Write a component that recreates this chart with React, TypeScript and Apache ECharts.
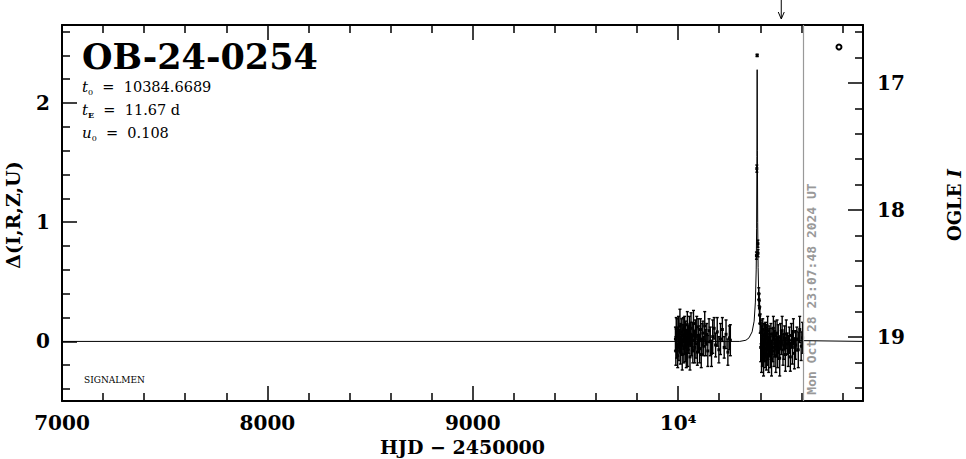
import React, { useEffect, useRef } from 'react';
import * as echarts from 'echarts';

// ---- axis ranges ----
const X_MIN = 7000;
const X_MAX = 10900;
const DELTA_MIN = -0.5;
const DELTA_MAX = 2.655;
const MAG_MIN = 16.543;
const MAG_MAX = 19.504;

// ---- tick positions ----
const xLabelTicks = [7000, 8000, 9000, 10000];
const xMinorTicks = [7200, 7400, 7600, 7800, 8200, 8400, 8600, 8800, 9200, 9400, 9600, 9800, 10200, 10400, 10600, 10800];
const deltaLabelTicks = [0, 1, 2];
const deltaMinorTicks = [-0.4, -0.2, 0.2, 0.4, 0.6, 0.8, 1.2, 1.4, 1.6, 1.8, 2.2, 2.4, 2.6];
const magLabelTicks = [17, 18, 19];
const magMinorTicks = [16.6, 16.8, 17.2, 17.4, 17.6, 17.8, 18.2, 18.4, 18.6, 18.8, 19.2, 19.4];

// ---- annotations ----
const EVENT_NAME = 'OB-24-0254';
const T0 = '10384.6689';
const TE = '11.67 d';
const U0 = '0.108';
const X_TITLE = 'HJD − 2450000';
const DATE_HJD = 10609.5;
const DATE_TEXT = 'Mon Oct 28 23:07:48 2024 UT';
const ARROW_HJD = 10502;
const LEGEND_POINT = [10783, 2.47];

// ---- model curve ----
const modelHjd = [7000, 10300, 10330, 10345, 10360, 10370, 10376, 10380, 10382, 10383.5, 10384.67, 10385.8, 10387.3, 10389.3, 10393, 10399, 10409, 10424, 10445, 10900];
const modelDelta = [0, 0, 0.01, 0.03, 0.08, 0.17, 0.33, 0.6, 0.95, 1.55, 2.28, 1.6, 1.0, 0.62, 0.34, 0.17, 0.08, 0.03, 0.01, 0];

// ---- OGLE photometry: season 2023 ----
const season1Hjd = [9986.8, 9988.8, 9990.7, 9992.8, 9994.7, 9997.8, 9999.7, 10001.8, 10003.7, 10005.8, 10008.7, 10010.8, 10012.7, 10015.8, 10017.6, 10019.8, 10022.7, 10024.7, 10027.6, 10029.8, 10031.7, 10034.6, 10036.7, 10039.6, 10041.7, 10044.6, 10046.6, 10049.7, 10051.6, 10054.6, 10057.6, 10059.7, 10062.6, 10065.5, 10068.6, 10071.5, 10074.6, 10077.5, 10080.6, 10083.5, 10086.6, 10090.5, 10093.5, 10097.5, 10100.5, 10104.5, 10108.5, 10112.4, 10116.5, 10120.4, 10124.5, 10129.4, 10134.4, 10139.4, 10144.4, 10150.4, 10156.3, 10162.4, 10168.3, 10175.3, 10182.3, 10190.3, 10198.2, 10206.2, 10215.2, 10224.2, 10233.1, 10242.1, 10249.1, 10254.1];
const season1Delta = [0.02, -0.08, 0.11, -0.03, 0.06, -0.12, 0.04, 0.09, -0.05, 0.01, 0.13, -0.09, 0.03, -0.02, 0.08, -0.11, 0.05, 0.1, -0.06, 0.0, 0.12, -0.04, 0.07, -0.1, 0.02, 0.14, -0.07, 0.03, -0.01, 0.09, -0.13, 0.06, 0.11, -0.03, 0.04, -0.08, 0.15, 0.01, -0.05, 0.08, -0.02, 0.12, -0.09, 0.05, 0.03, -0.06, 0.1, -0.11, 0.02, 0.07, -0.04, 0.13, -0.01, 0.06, -0.08, 0.09, 0.0, -0.1, 0.04, 0.11, -0.03, 0.08, -0.07, 0.02, 0.1, -0.05, 0.06, -0.09, 0.03, 0.01];
const season1Err = [0.1, 0.12, 0.09, 0.11, 0.13, 0.1, 0.08, 0.12, 0.11, 0.09, 0.14, 0.1, 0.12, 0.08, 0.11, 0.13, 0.09, 0.1, 0.12, 0.11, 0.09, 0.13, 0.1, 0.12, 0.08, 0.11, 0.14, 0.1, 0.09, 0.12, 0.11, 0.1, 0.13, 0.09, 0.12, 0.1, 0.11, 0.08, 0.13, 0.1, 0.12, 0.09, 0.11, 0.14, 0.1, 0.12, 0.09, 0.11, 0.13, 0.1, 0.08, 0.12, 0.11, 0.09, 0.13, 0.1, 0.12, 0.11, 0.14, 0.09, 0.1, 0.12, 0.11, 0.13, 0.1, 0.09, 0.12, 0.11, 0.1, 0.13];

// ---- OGLE photometry: around the peak ----
const peakHjd = [10381.2, 10383.0, 10384.6, 10388.3, 10388.9, 10392.5, 10394.0, 10395.8, 10397.5, 10399.5];
const peakDelta = [0.72, 1.45, 2.4, 0.82, 0.74, 0.4, 0.35, 0.28, 0.22, 0.15];
const peakErr = [0.03, 0.03, 0.01, 0.03, 0.03, 0.05, 0.05, 0.06, 0.07, 0.08];

// ---- OGLE photometry: season 2024 after the peak ----
const season2Hjd = [10401.9, 10403.8, 10405.9, 10407.8, 10409.8, 10411.9, 10413.8, 10415.8, 10417.9, 10419.8, 10421.8, 10423.7, 10425.8, 10427.8, 10429.7, 10431.8, 10433.7, 10435.8, 10437.7, 10440.7, 10442.8, 10445.7, 10448.7, 10451.6, 10454.7, 10457.6, 10460.7, 10463.6, 10466.6, 10469.6, 10472.6, 10475.6, 10478.5, 10481.6, 10484.5, 10487.5, 10490.5, 10494.5, 10498.5, 10502.4, 10506.4, 10510.4, 10514.4, 10518.3, 10522.3, 10526.3, 10531.3, 10536.2, 10541.2, 10546.2, 10551.2, 10556.1, 10561.1, 10566.1, 10572.0, 10578.0, 10584.9, 10591.9, 10598.9, 10605.8];
const season2Delta = [-0.05, 0.08, -0.12, 0.02, -0.08, 0.1, -0.03, -0.14, 0.05, -0.06, 0.01, -0.1, 0.07, -0.02, -0.13, 0.04, -0.07, 0.09, -0.04, -0.11, 0.03, -0.01, -0.09, 0.06, -0.15, 0.0, -0.05, 0.11, -0.08, -0.02, 0.05, -0.12, -0.03, 0.07, -0.09, 0.02, -0.06, -0.14, 0.04, -0.01, 0.09, -0.07, -0.04, 0.03, -0.11, 0.06, -0.02, -0.08, 0.01, -0.13, 0.05, -0.05, 0.08, -0.1, -0.03, 0.02, -0.07, 0.1, -0.04, 0.03];
const season2Err = [0.12, 0.1, 0.14, 0.11, 0.13, 0.09, 0.12, 0.15, 0.1, 0.11, 0.13, 0.12, 0.09, 0.14, 0.11, 0.1, 0.13, 0.12, 0.11, 0.15, 0.1, 0.12, 0.13, 0.09, 0.14, 0.11, 0.12, 0.1, 0.13, 0.11, 0.12, 0.14, 0.1, 0.11, 0.13, 0.12, 0.09, 0.15, 0.11, 0.1, 0.12, 0.13, 0.11, 0.1, 0.14, 0.12, 0.09, 0.13, 0.11, 0.12, 0.1, 0.14, 0.11, 0.13, 0.12, 0.1, 0.15, 0.11, 0.12, 0.13];

const SERIF = '"DejaVu Serif", "Liberation Serif", serif';
const BLACK = '#000';
const GRAY = '#999';
const GRID = { left: 62, right: 103, top: 25, bottom: 58 };
const MAJOR_LEN = 15;
const MINOR_LEN = 8;

function zip3(a: number[], b: number[], c: number[]) {
  return a.map((v, i) => [v, b[i], c[i]]);
}

export default function App() {
  const ref = useRef<HTMLDivElement>(null);

  useEffect(() => {
    if (!ref.current) return;
    const chart = echarts.init(ref.current, undefined, { renderer: 'svg' });

    const obs = [
      ...zip3(season1Hjd, season1Delta, season1Err),
      ...zip3(peakHjd, peakDelta, peakErr),
      ...zip3(season2Hjd, season2Delta, season2Err),
    ];
    const model = modelHjd.map((v, i) => [v, modelDelta[i]]);

    const frameLine = { show: true, onZero: false, lineStyle: { color: BLACK, width: 2 } };
    const labelFont = { color: BLACK, fontFamily: SERIF, fontSize: 20, fontWeight: 'bold' as const };
    const ticks = (values: number[], length: number) => ({
      show: true,
      inside: true,
      length,
      customValues: values,
      lineStyle: { color: BLACK, width: 1.5 },
    });
    const noLabel = { show: false };
    const noSplit = { show: false };
    // an axis that only carries tick marks, pinned to the zero of a helper axis
    const pinned = (idx: number) => ({ show: false, onZero: true, onZeroAxisIndex: idx });

    const xRange = { type: 'value' as const, min: X_MIN, max: X_MAX, splitLine: noSplit };
    const deltaRange = { type: 'value' as const, min: DELTA_MIN, max: DELTA_MAX, splitLine: noSplit };
    const magRange = { type: 'value' as const, min: MAG_MIN, max: MAG_MAX, inverse: true, splitLine: noSplit };

    chart.setOption({
      animation: false,
      backgroundColor: '#fff',
      grid: { ...GRID, containLabel: false },
      xAxis: [
        // 0: bottom frame, labels, major ticks
        {
          ...xRange,
          position: 'bottom',
          axisLine: frameLine,
          axisTick: ticks(xLabelTicks, MAJOR_LEN),
          axisLabel: {
            ...labelFont,
            margin: 12,
            customValues: xLabelTicks,
            formatter: (v: number) => (v === 10000 ? '10⁴' : String(v)),
          },
        },
        // 1: bottom minor ticks
        { ...xRange, position: 'bottom', axisLine: pinned(2), axisTick: ticks(xMinorTicks, MINOR_LEN), axisLabel: noLabel },
        // 2: top frame
        { ...xRange, position: 'top', axisLine: frameLine, axisTick: { show: false }, axisLabel: noLabel },
        // 3: top major ticks
        { ...xRange, position: 'top', axisLine: pinned(3), axisTick: ticks(xLabelTicks, MAJOR_LEN), axisLabel: noLabel },
        // 4: top minor ticks
        { ...xRange, position: 'top', axisLine: pinned(3), axisTick: ticks(xMinorTicks, MINOR_LEN), axisLabel: noLabel },
        // 5, 6: helper axes whose zero sits on the left / right frame
        { type: 'value', min: 0, max: 1, show: false, position: 'bottom', splitLine: noSplit },
        { type: 'value', min: -1, max: 0, show: false, position: 'bottom', splitLine: noSplit },
      ],
      yAxis: [
        // 0: left frame, Δ labels, major ticks
        {
          ...deltaRange,
          position: 'left',
          axisLine: frameLine,
          axisTick: ticks(deltaLabelTicks, MAJOR_LEN),
          axisLabel: { ...labelFont, margin: 12, customValues: deltaLabelTicks },
        },
        // 1: right frame, OGLE I labels, major ticks
        {
          ...magRange,
          position: 'right',
          axisLine: frameLine,
          axisTick: ticks(magLabelTicks, MAJOR_LEN),
          axisLabel: { ...labelFont, margin: 14, customValues: magLabelTicks },
        },
        // 2, 3: helper axes whose zero sits on the bottom / top frame
        { type: 'value', min: 0, max: 1, show: false, position: 'left', splitLine: noSplit },
        { type: 'value', min: -1, max: 0, show: false, position: 'left', splitLine: noSplit },
        // 4: left minor ticks
        { ...deltaRange, position: 'left', axisLine: pinned(5), axisTick: ticks(deltaMinorTicks, MINOR_LEN), axisLabel: noLabel },
        // 5: right minor ticks
        { ...magRange, position: 'right', axisLine: pinned(6), axisTick: ticks(magMinorTicks, MINOR_LEN), axisLabel: noLabel },
      ],
      series: [
        {
          type: 'line',
          name: 'model',
          xAxisIndex: 0,
          yAxisIndex: 0,
          data: model,
          showSymbol: false,
          symbol: 'none',
          lineStyle: { color: BLACK, width: 1 },
          silent: true,
          markLine: {
            silent: true,
            symbol: ['none', 'none'],
            label: { show: false },
            lineStyle: { color: GRAY, width: 1.2, type: 'solid' },
            data: [{ xAxis: DATE_HJD }],
          },
        },
        {
          type: 'custom',
          name: 'OGLE',
          xAxisIndex: 0,
          yAxisIndex: 0,
          data: obs,
          encode: { x: 0, y: 1 },
          renderItem: (_params: any, api: any) => {
            const x = api.value(0);
            const y = api.value(1);
            const e = api.value(2);
            const top = api.coord([x, y + e]);
            const bot = api.coord([x, y - e]);
            const c = api.coord([x, y]);
            return {
              type: 'group',
              children: [
                { type: 'line', shape: { x1: top[0], y1: top[1], x2: bot[0], y2: bot[1] }, style: { stroke: BLACK, lineWidth: 1.4 } },
                { type: 'line', shape: { x1: top[0] - 1.5, y1: top[1], x2: top[0] + 1.5, y2: top[1] }, style: { stroke: BLACK, lineWidth: 1.4 } },
                { type: 'line', shape: { x1: bot[0] - 1.5, y1: bot[1], x2: bot[0] + 1.5, y2: bot[1] }, style: { stroke: BLACK, lineWidth: 1.4 } },
                { type: 'rect', shape: { x: c[0] - 1.5, y: c[1] - 1.5, width: 3, height: 3 }, style: { fill: BLACK } },
              ],
            };
          },
        },
      ],
    });

    const px = (v: number) => Number(chart.convertToPixel({ xAxisIndex: 0 }, v));
    const pyDelta = (v: number) => Number(chart.convertToPixel({ yAxisIndex: 0 }, v));

    const bottom = pyDelta(DELTA_MIN);
    const centerX = (px(X_MIN) + px(X_MAX)) / 2;
    const dateX = px(DATE_HJD);
    const arrowX = px(ARROW_HJD);
    const legendX = px(LEGEND_POINT[0]);
    const legendY = pyDelta(LEGEND_POINT[1]);

    const paramRich = {
      it: { fontFamily: SERIF, fontSize: 15, fontStyle: 'italic', color: BLACK, lineHeight: 18 },
      sub: { fontFamily: SERIF, fontSize: 8, color: BLACK, verticalAlign: 'bottom', lineHeight: 12 },
      subb: { fontFamily: SERIF, fontSize: 8, fontWeight: 'bold', color: BLACK, verticalAlign: 'bottom', lineHeight: 12 },
      n: { fontFamily: SERIF, fontSize: 14.5, color: BLACK, lineHeight: 18 },
    };

    chart.setOption({
      graphic: [
        {
          type: 'text',
          x: centerX,
          y: bottom + 46,
          style: { text: X_TITLE, fontFamily: SERIF, fontSize: 19, fontWeight: 'bold', fill: BLACK, align: 'center', verticalAlign: 'middle' },
        },
        {
          type: 'text',
          x: 82,
          y: 56,
          style: { text: EVENT_NAME, fontFamily: SERIF, fontSize: 35, fontWeight: 'bold', fill: BLACK, align: 'left', verticalAlign: 'middle' },
        },
        {
          type: 'text',
          x: 82,
          y: 87,
          style: { text: `{it|t}{sub|0}{n|  =  ${T0}}`, rich: paramRich, align: 'left', verticalAlign: 'middle' },
        },
        {
          type: 'text',
          x: 82,
          y: 110,
          style: { text: `{it|t}{subb|E}{n|  =  ${TE}}`, rich: paramRich, align: 'left', verticalAlign: 'middle' },
        },
        {
          type: 'text',
          x: 82,
          y: 133,
          style: { text: `{it|u}{sub|0}{n|  =  ${U0}}`, rich: paramRich, align: 'left', verticalAlign: 'middle' },
        },
        {
          type: 'text',
          x: 84,
          y: 380,
          style: { text: 'SIGNALMEN', fontFamily: SERIF, fontSize: 9, fill: BLACK, align: 'left', verticalAlign: 'middle' },
        },
        {
          type: 'text',
          x: 13,
          y: 215,
          rotation: Math.PI / 2,
          style: { text: 'Δ(I,R,Z,U)', fontFamily: SERIF, fontSize: 19, fontWeight: 'bold', fill: BLACK, align: 'center', verticalAlign: 'middle' },
        },
        {
          type: 'text',
          x: 954,
          y: 205,
          rotation: Math.PI / 2,
          style: {
            text: 'OGLE {it|I}',
            fontFamily: SERIF,
            fontSize: 18,
            fontWeight: 'bold',
            fill: BLACK,
            align: 'center',
            verticalAlign: 'middle',
            rich: { it: { fontFamily: SERIF, fontSize: 18, fontWeight: 'bold', fontStyle: 'italic', fill: BLACK } },
          },
        },
        {
          type: 'text',
          x: dateX + 8,
          y: bottom - 112,
          rotation: Math.PI / 2,
          style: { text: DATE_TEXT, fontFamily: '"DejaVu Sans Mono", monospace', fontSize: 13, fontWeight: 'bold', fill: GRAY, align: 'center', verticalAlign: 'middle' },
        },
        {
          type: 'line',
          shape: { x1: arrowX, y1: 0, x2: arrowX, y2: 18 },
          style: { stroke: BLACK, lineWidth: 1 },
        },
        {
          type: 'polyline',
          shape: { points: [[arrowX - 3, 12], [arrowX, 19], [arrowX + 3, 12]] },
          style: { stroke: BLACK, lineWidth: 1, fill: 'none' },
        },
        {
          type: 'circle',
          shape: { cx: legendX, cy: legendY, r: 2.5 },
          style: { stroke: BLACK, lineWidth: 2, fill: '#fff' },
        },
      ],
    });

    return () => chart.dispose();
  }, []);

  return (
    <div
      ref={ref}
      style={{ position: 'fixed', left: 0, top: 0, width: 966, height: 459, background: '#fff' }}
    />
  );
}
